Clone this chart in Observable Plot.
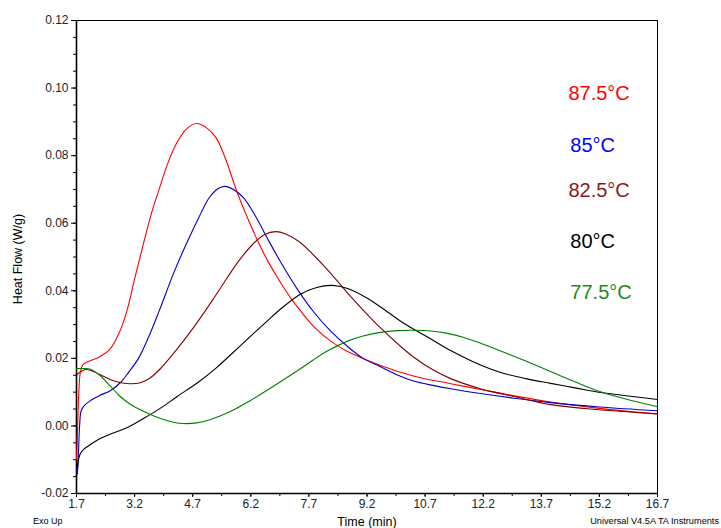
<!DOCTYPE html>
<html><head><meta charset="utf-8">
<script src="https://cdn.jsdelivr.net/npm/d3@7"></script>
<script src="https://cdn.jsdelivr.net/npm/@observablehq/plot@0.6"></script>
<style>
body{margin:0;background:#fff;}
#chart{width:721px;height:528px;}
</style>
</head><body><div id="chart"></div>
<script>
// ---- data ----
const seriesNames = ["87.5°C", "85°C", "82.5°C", "80°C", "77.5°C"];

const t875  = [1.70,1.73,1.76,1.80,1.86,1.95,2.10,2.30,2.55,2.80,3.00,3.20,3.43,3.65,3.84,4.05,4.28,4.55,4.80,5.05,5.31,5.55,5.83,6.10,6.35,6.63,6.97,7.30,7.82,8.30,8.70,9.55,10.40,11.36,12.13,13.00,13.94,15.20,16.70];
const hf875 = [-0.010,0.000,0.010,0.0160,0.0180,0.0188,0.0195,0.0205,0.0225,0.0275,0.0340,0.0435,0.0540,0.0635,0.0703,0.0775,0.0836,0.0880,0.0895,0.0883,0.0852,0.0790,0.0697,0.0620,0.0555,0.0490,0.0424,0.0368,0.0295,0.0248,0.0220,0.0179,0.0148,0.0125,0.0108,0.0089,0.0071,0.0052,0.0035];

const t85  = [1.70,1.72,1.75,1.78,1.82,1.90,2.06,2.30,2.58,2.85,3.04,3.30,3.55,3.84,4.20,4.54,4.85,5.13,5.35,5.52,5.75,6.01,6.30,6.63,6.97,7.40,7.82,8.25,8.70,9.10,9.55,10.00,10.40,10.90,11.36,12.13,13.00,13.94,15.20,16.70];
const hf85 = [-0.013,-0.0145,-0.008,0.000,0.0045,0.0060,0.0075,0.0090,0.0105,0.0130,0.0158,0.0200,0.0260,0.0342,0.0450,0.0540,0.0615,0.0676,0.0702,0.0709,0.0700,0.0676,0.0625,0.0555,0.0485,0.0405,0.0338,0.0282,0.0235,0.0200,0.0175,0.0150,0.0133,0.0120,0.0110,0.0096,0.0082,0.0069,0.0056,0.0045];

const t825  = [1.70,1.80,1.93,2.10,2.30,2.58,2.85,3.10,3.35,3.60,3.87,4.30,4.72,5.20,5.57,5.90,6.27,6.55,6.84,7.10,7.45,7.80,8.20,8.65,9.10,9.55,10.07,10.40,10.90,11.36,12.13,13.00,13.94,15.20,16.70];
const hf825 = [0.0150,0.0160,0.0167,0.0163,0.0152,0.0137,0.0128,0.0125,0.0128,0.0142,0.0170,0.0228,0.0291,0.0370,0.0435,0.0490,0.0540,0.0566,0.0575,0.0568,0.0545,0.0508,0.0460,0.0400,0.0343,0.0290,0.0235,0.0204,0.0166,0.0140,0.0110,0.0087,0.0063,0.0048,0.0036];

const t80  = [1.70,1.72,1.75,1.80,1.90,2.06,2.30,2.58,3.04,3.43,3.90,4.31,4.85,5.31,5.75,6.19,6.60,6.97,7.48,7.90,8.30,8.70,9.21,9.55,10.07,10.50,10.84,11.36,12.13,12.65,13.30,13.94,14.60,15.23,16.00,16.70];
const hf80 = [-0.0105,-0.0125,-0.0100,-0.0082,-0.0068,-0.0055,-0.0038,-0.0024,-0.0003,0.0022,0.0055,0.0088,0.0130,0.0172,0.0218,0.0265,0.0308,0.0346,0.0390,0.0410,0.0416,0.0407,0.0378,0.0352,0.0310,0.0280,0.0258,0.0223,0.0180,0.0158,0.0140,0.0126,0.0112,0.0099,0.0088,0.0078];

const t775  = [1.70,1.90,2.06,2.30,2.58,2.80,3.04,3.40,3.87,4.20,4.46,4.80,5.10,5.42,5.80,6.20,6.60,6.97,7.48,7.82,8.20,8.70,9.10,9.55,10.00,10.40,10.85,11.28,11.70,12.13,12.65,13.30,13.94,14.60,15.23,16.00,16.70];
const hf775 = [0.0170,0.0170,0.0168,0.0150,0.0117,0.0090,0.0068,0.0045,0.0022,0.0011,0.0007,0.0009,0.0017,0.0030,0.0050,0.0076,0.0104,0.0131,0.0169,0.0196,0.0223,0.0251,0.0266,0.0277,0.0282,0.0283,0.0281,0.0274,0.0262,0.0245,0.0222,0.0192,0.0161,0.0129,0.0101,0.0076,0.0057];

const xTicks = [1.7, 3.2, 4.7, 6.2, 7.7, 9.2, 10.7, 12.2, 13.7, 15.2, 16.7];
const yTicks = [-0.02, 0.00, 0.02, 0.04, 0.06, 0.08, 0.10, 0.12];
// label anchors (data units) for the in-plot series labels
const labelTime = [14.4, 14.45, 14.4, 14.45, 14.45];
const labelHeatFlow = [0.0984, 0.0830, 0.0697, 0.0546, 0.0395];

// ---- styles ----
const lineColors = ["#ff0000", "#0000c8", "#800000", "#000000", "#008000"];
const textColors = ["#ff0000", "#0000ff", "#8b1a1a", "#000000", "#1f8a1f"];
const FONT = "'Liberation Sans', Arial, sans-serif";

// ---- build table ----
const allT = [t875, t85, t825, t80, t775];
const allHF = [hf875, hf85, hf825, hf80, hf775];
const rows = [];
seriesNames.forEach((s, i) => allT[i].forEach((t, j) => rows.push({series: s, t, hf: allHF[i][j]})));
const labels = seriesNames.map((s, i) => ({series: s, t: labelTime[i], hf: labelHeatFlow[i]}));

const minorX = d3.range(0, 21).map(i => 1.7 + i * 0.75).filter(v => v <= 16.70001);
const minorY = d3.range(0, 29).map(i => -0.02 + i * 0.005);

const plot = Plot.plot({
  width: 721, height: 528,
  marginLeft: 76, marginRight: 64, marginTop: 20, marginBottom: 35,
  style: {fontFamily: FONT, background: "#fff", overflow: "visible"},
  x: {domain: [1.7, 16.7]},
  y: {domain: [-0.02, 0.12]},
  color: {domain: seriesNames, range: lineColors},
  marks: [
    Plot.frame({stroke: "#000", strokeWidth: 1}),
    Plot.axisY(minorY, {tickSize: 3, tickFormat: () => "", label: null, stroke: "#000"}),
    Plot.axisY(yTicks, {tickSize: 5, tickPadding: 3, tickFormat: d => d.toFixed(2), label: null, fontSize: 12, fill: "#222", stroke: "#000"}),
    Plot.axisX(minorX, {tickSize: 3, tickFormat: () => "", label: null, stroke: "#000"}),
    Plot.axisX(xTicks, {tickSize: 4, tickPadding: 2, tickFormat: d => d.toFixed(1), label: null, fontSize: 12, fill: "#222", stroke: "#000"}),
    Plot.ruleX([1.7], {stroke: "#000", strokeWidth: 1.6}),
    Plot.ruleY([-0.02], {stroke: "#000", strokeWidth: 1.6}),
    Plot.line(rows, {x: "t", y: "hf", z: "series", stroke: "series", strokeWidth: 1.1, curve: "catmull-rom"}),
    Plot.text(labels, {x: "t", y: "hf", text: "series", fill: (d) => textColors[seriesNames.indexOf(d.series)], textAnchor: "start", fontSize: 20, fontFamily: FONT})
  ]
});

const svg = d3.select(plot);
svg.append("text").attr("transform", "translate(22,259) rotate(-90)")
  .attr("text-anchor", "middle").attr("font-size", 12.5).attr("fill", "#000")
  .attr("font-family", FONT).text("Heat Flow (W/g)");
svg.append("text").attr("x", 367).attr("y", 526)
  .attr("text-anchor", "middle").attr("font-size", 12.5).attr("fill", "#000")
  .attr("font-family", FONT).text("Time (min)");
svg.append("text").attr("x", 33).attr("y", 524)
  .attr("text-anchor", "start").attr("font-size", 9).attr("fill", "#000")
  .attr("font-family", FONT).text("Exo Up");
svg.append("text").attr("x", 719).attr("y", 524)
  .attr("text-anchor", "end").attr("font-size", 9.2).attr("fill", "#000")
  .attr("font-family", FONT).text("Universal V4.5A TA Instruments");

document.getElementById("chart").appendChild(plot);
</script>
</body></html>
